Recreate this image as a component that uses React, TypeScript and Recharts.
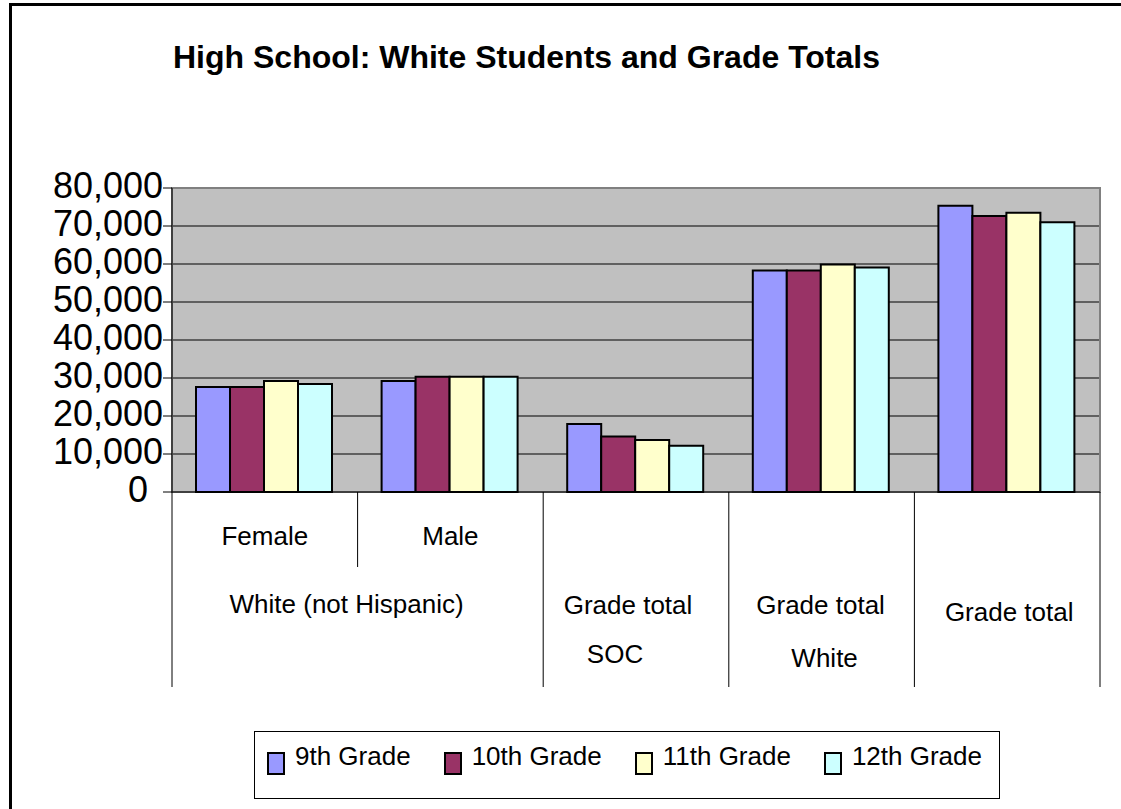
import React from 'react';
import { BarChart, Bar, XAxis, YAxis, CartesianGrid, ReferenceArea } from 'recharts';

const categories = ['Female', 'Male', 'Grade total SOC', 'Grade total White', 'Grade total'];
const subLabels = ['Female', 'Male', '', '', ''];
const groupLabels = [['White (not Hispanic)'], ['Grade total', 'SOC'], ['Grade total', 'White'], ['Grade total']];
const groupSpans = [2, 1, 1, 1];

const seriesNames = ['9th Grade', '10th Grade', '11th Grade', '12th Grade'];
const grade9 = [27600, 29200, 17900, 58300, 75300];
const grade10 = [27600, 30300, 14600, 58300, 72600];
const grade11 = [29200, 30300, 13700, 59900, 73500];
const grade12 = [28400, 30300, 12200, 59100, 71000];
const yTicks = [0, 10000, 20000, 30000, 40000, 50000, 60000, 70000, 80000];

const COLORS = ['#9999FF', '#993366', '#FFFFCC', '#CCFFFF'];
const KEYS = ['g9', 'g10', 'g11', 'g12'];
const FONT = "'Liberation Sans', Arial, sans-serif";

const data = categories.map((name, i) => ({
  name,
  g9: grade9[i],
  g10: grade10[i],
  g11: grade11[i],
  g12: grade12[i],
}));

// layout
const W = 1121;
const H = 809;
const PLOT_LEFT = 172;
const PLOT_RIGHT = 1100;
const PLOT_TOP = 188;
const PLOT_BOTTOM = 492;
const AXIS_BOTTOM = 687;
const XAXIS_H = 200;
const BAND = (PLOT_RIGHT - PLOT_LEFT) / categories.length;

// per-group text tweaks (dx for each line, baselines)
const groupDx = [[-11], [-8, -21], [-1, 3], [2]];
const groupBaselines = [[613], [614, 663], [614, 667], [621]];

const groupStarts: number[] = [];
groupSpans.reduce((acc, s) => {
  groupStarts.push(acc);
  return acc + s;
}, 0);

const XTick = (props: any) => {
  const { x, payload } = props;
  const i = payload.index;
  const left = x - BAND / 2;
  const right = x + BAND / 2;
  const g = groupStarts.indexOf(i);
  const sub = subLabels[i];
  return (
    <g>
      {sub && (
        <text x={x} y={545} textAnchor="middle" fontSize={26} fontFamily={FONT} fill="#000">
          {sub}
        </text>
      )}
      {g >= 0 ? (
        <line x1={left} x2={left} y1={PLOT_BOTTOM} y2={AXIS_BOTTOM} stroke="#000" strokeWidth={1} />
      ) : (
        <line x1={left} x2={left} y1={PLOT_BOTTOM} y2={567} stroke="#000" strokeWidth={1} />
      )}
      {i === categories.length - 1 && (
        <line x1={right} x2={right} y1={PLOT_BOTTOM} y2={AXIS_BOTTOM} stroke="#000" strokeWidth={1} />
      )}
      {g >= 0 &&
        groupLabels[g].map((line, k) => (
          <text
            key={k}
            x={left + (groupSpans[g] * BAND) / 2 + groupDx[g][k]}
            y={groupBaselines[g][k]}
            textAnchor="middle"
            fontSize={26}
            fontFamily={FONT}
            fill="#000"
          >
            {line}
          </text>
        ))}
    </g>
  );
};

const YTick = (props: any) => {
  const { x, y, payload } = props;
  return (
    <text
      x={x}
      y={y + 10}
      dx={payload.value === 0 ? -15 : 0}
      textAnchor="end"
      fontSize={36}
      fontFamily={FONT}
      fill="#000"
    >
      {payload.value.toLocaleString('en-US')}
    </text>
  );
};

export default function App() {
  return (
    <div style={{ position: 'fixed', left: 0, top: 0, width: W, height: H, background: '#fff', overflow: 'hidden' }}>
      {/* frame: only the left and top edges fall inside the picture */}
      <div style={{ position: 'absolute', left: 9, top: 3, width: 3, height: H - 3, background: '#000' }} />
      <div style={{ position: 'absolute', left: 9, top: 3, width: W - 9, height: 3, background: '#000' }} />
      <div
        style={{
          position: 'absolute',
          left: 173,
          top: 41,
          fontFamily: FONT,
          fontWeight: 'bold',
          fontSize: 32,
          lineHeight: '32px',
          whiteSpace: 'nowrap',
          color: '#000',
        }}
      >
        High School: White Students and Grade Totals
      </div>
      <div style={{ position: 'absolute', left: 0, top: 0 }}>
        <BarChart
          width={W}
          height={H}
          data={data}
          margin={{ top: PLOT_TOP, right: W - PLOT_RIGHT, bottom: H - PLOT_BOTTOM - XAXIS_H, left: 0 }}
          barCategoryGap={24}
          barGap={0}
        >
          <CartesianGrid vertical={false} stroke="#000" fill="#C0C0C0" fillOpacity={1} />
          <ReferenceArea y1={0} y2={80000} fill="none" stroke="#808080" strokeWidth={2} ifOverflow="visible" />
          {KEYS.map((k, i) => (
            <Bar
              key={k}
              dataKey={k}
              name={seriesNames[i]}
              fill={COLORS[i]}
              stroke="#000"
              strokeWidth={2}
              isAnimationActive={false}
            />
          ))}
          <XAxis
            dataKey="name"
            interval={0}
            height={XAXIS_H}
            tickLine={false}
            axisLine={{ stroke: '#000', strokeWidth: 1 }}
            tick={<XTick />}
          />
          <YAxis
            width={PLOT_LEFT}
            domain={[0, 80000]}
            ticks={yTicks}
            interval={0}
            tickSize={9}
            tickMargin={0}
            tickLine={{ stroke: '#000' }}
            axisLine={{ stroke: '#000', strokeWidth: 1 }}
            tick={<YTick />}
          />
        </BarChart>
      </div>
      <div
        style={{
          position: 'absolute',
          left: 254,
          top: 731,
          width: 746,
          height: 68,
          boxSizing: 'border-box',
          border: '1px solid #000',
          paddingTop: 11,
          paddingLeft: 12,
          display: 'flex',
          alignItems: 'flex-start',
          fontFamily: FONT,
          fontSize: 26,
          lineHeight: '26px',
          background: '#fff',
        }}
      >
        {seriesNames.map((n, i) => (
          <div key={n} style={{ display: 'flex', alignItems: 'flex-start', marginRight: 33 }}>
            <div
              style={{
                width: 18,
                height: 23,
                boxSizing: 'border-box',
                border: '2px solid #000',
                background: COLORS[i],
                marginTop: 9,
                marginRight: 10,
              }}
            />
            <span style={{ whiteSpace: 'nowrap' }}>{n}</span>
          </div>
        ))}
      </div>
    </div>
  );
}
